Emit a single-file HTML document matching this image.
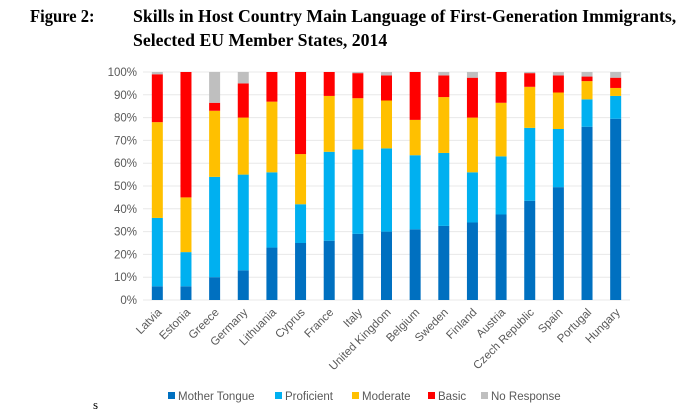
<!DOCTYPE html>
<html><head><meta charset="utf-8"><style>
body{margin:0;background:#fff;width:688px;height:411px;overflow:hidden;position:relative;font-family:"Liberation Sans",sans-serif}
.t{position:absolute;font-family:"Liberation Serif",serif;font-weight:bold;font-size:18px;white-space:nowrap;transform-origin:0 0;color:#000}
</style></head><body>
<div class="t" style="left:30px;top:6px;transform:scaleX(0.92)">Figure 2:</div>
<div class="t" style="left:133px;top:6px;transform:scaleX(0.985)">Skills in Host Country Main Language of First-Generation Immigrants,</div>
<div class="t" style="left:133px;top:30px;transform:scaleX(0.985)">Selected EU Member States, 2014</div>
<div style="position:absolute;left:93px;top:397px;font-family:'Liberation Serif',serif;font-size:13px">s</div>
<svg id="chart" width="688" height="411" style="position:absolute;left:0;top:0"></svg>
<script>
const categories=["Latvia","Estonia","Greece","Germany","Lithuania","Cyprus","France","Italy","United Kingdom","Belgium","Sweden","Finland","Austria","Czech Republic","Spain","Portugal","Hungary"];
const motherTongue=[6,6,10,13,23,25,26,29,30,31,32.5,34,37.5,43.5,49.5,76,79.5];
const proficient=[30,15,44,42,33,17,39,37,36.5,32.5,32,22,25.5,32,25.5,12,10];
const moderate=[42,24,29,25,31,22,24.5,22.5,21,15.5,24.5,24,23.5,18,16,8,3.5];
const basic=[21,55,3.5,15,13,36,10.5,11,11,21,9.5,17.5,13.5,6,7.5,2,4.5];
const noResponse=[1,0,13.5,5,0,0,0,0.5,1.5,0,1.5,2.5,0,0.5,1.5,2,2.5];
const seriesNames=["Mother Tongue","Proficient","Moderate","Basic","No Response"];
const yTicks=[0,10,20,30,40,50,60,70,80,90,100];
const series=[motherTongue,proficient,moderate,basic,noResponse];
const colors=["#0070c0","#00b0f0","#ffc000","#ff0000","#bfbfbf"];
const NS="http://www.w3.org/2000/svg";
const svg=document.getElementById('chart');
const x0=143,x1=630,yB=300,yT=72;
const y=v=>yB-(v/100)*(yB-yT);
const step=(x1-x0)/categories.length;
const xc=i=>x0+step*(i+0.5);
function mk(tag,attrs){const e=document.createElementNS(NS,tag);for(const k in attrs)e.setAttribute(k,attrs[k]);svg.appendChild(e);return e;}
yTicks.forEach(t=>{
 const g=mk('line',{x1:x0,x2:x1,y1:y(t),y2:y(t),stroke:'#e8e8e8','stroke-width':1});
 
 
 const l=mk('text',{x:137,y:y(t)+4,'text-anchor':'end','font-size':11.5,fill:'#595959','font-family':'Liberation Sans, sans-serif'});
 l.textContent=t+'%';
 
 
});
categories.forEach((c,i)=>{
 let cum=0;
 series.forEach((s,k)=>{
  const v=s[i];
  if(v>0){
   const r=mk('rect',{x:xc(i)-5.5,width:11,y:y(cum+v),height:y(cum)-y(cum+v),fill:colors[k]});
   
   
  }
  cum+=v;
 });
 const t=mk('text',{x:0,y:0,'text-anchor':'end','font-size':11.5,fill:'#595959','font-family':'Liberation Sans, sans-serif',transform:`translate(${xc(i)+5},${yB+13}) rotate(-45)`});
 t.textContent=c;
 
 
});
const legX=[168,275,352,428,481];
seriesNames.forEach((n,k)=>{
 const r=mk('rect',{x:legX[k],y:392,width:7,height:7,fill:colors[k]});
 
 
 const t=mk('text',{x:legX[k]+10,y:400,'font-size':11.5,fill:'#595959','font-family':'Liberation Sans, sans-serif'});
 t.textContent=n;
 
 
});
</script>
</body></html>
